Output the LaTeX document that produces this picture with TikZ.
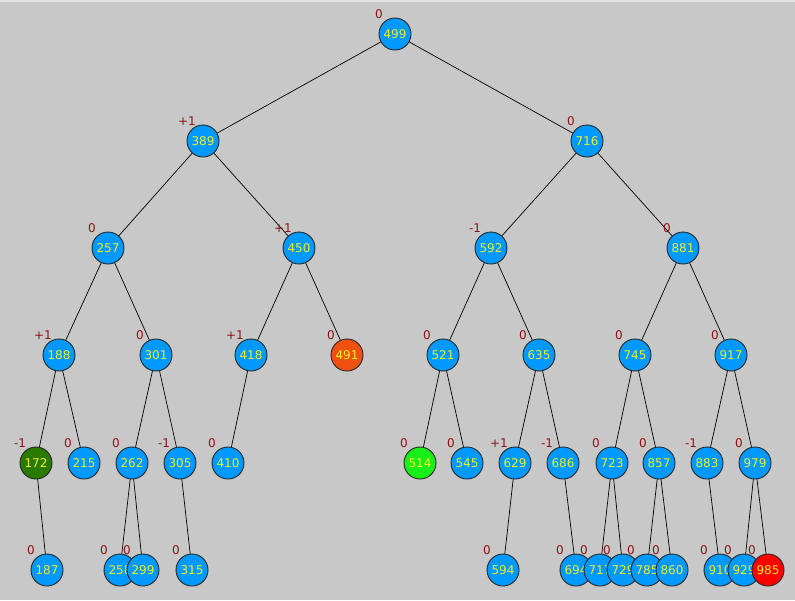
\documentclass[tikz,border=0pt]{standalone}
\usepackage{fontspec}
\setmainfont{DejaVu Sans}
\definecolor{bgc}{RGB}{200,200,200}
\definecolor{topc}{RGB}{228,228,228}
\definecolor{nodeblue}{RGB}{0,153,255}
\definecolor{keytxt}{RGB}{240,240,40}
\definecolor{baltxt}{RGB}{140,20,20}
\definecolor{dkgreen}{RGB}{42,122,0}
\definecolor{ltgreen}{RGB}{24,238,24}
\definecolor{orng}{RGB}{240,80,16}
\definecolor{hotred}{RGB}{255,0,0}
\begin{document}
\begin{tikzpicture}[x=1pt,y=-1pt,
  avl/.style={circle,draw=black!85,line width=0.9pt,fill=nodeblue,text=keytxt,
    minimum size=32pt,inner sep=0pt,font=\fontsize{12}{12}\selectfont},
  bal/.style={text=baltxt,font=\fontsize{12}{12}\selectfont,inner sep=0pt},
  edge/.style={draw=black,line width=0.7pt}]
\fill[bgc] (0,0) rectangle (795,600);
\fill[topc] (0,0) rectangle (795,2);
\useasboundingbox (0,0) rectangle (795,600);
% node positions: name/x/y/key/fill/balance
\foreach \n/\x/\y/\k/\c/\b in {
  n499/395/34/499/nodeblue/0,
  n389/203/141/389/nodeblue/+1, n716/587/141/716/nodeblue/0,
  n257/108/248/257/nodeblue/0, n450/299/248/450/nodeblue/+1,
  n592/491/248/592/nodeblue/-1, n881/683/248/881/nodeblue/0,
  n188/59/355/188/nodeblue/+1, n301/156/355/301/nodeblue/0,
  n418/251/355/418/nodeblue/+1, n491/347/355/491/orng/0,
  n521/443/355/521/nodeblue/0, n635/539/355/635/nodeblue/0,
  n745/635/355/745/nodeblue/0, n917/731/355/917/nodeblue/0,
  n172/36/463/172/dkgreen/-1, n215/84/463/215/nodeblue/0,
  n262/132/463/262/nodeblue/0, n305/180/463/305/nodeblue/-1,
  n410/228/463/410/nodeblue/0, n514/420/463/514/ltgreen/0,
  n545/467/463/545/nodeblue/0, n629/515/463/629/nodeblue/+1,
  n686/563/463/686/nodeblue/-1, n723/612/463/723/nodeblue/0,
  n857/659/463/857/nodeblue/0, n883/707/463/883/nodeblue/-1,
  n979/755/463/979/nodeblue/0,
  n187/47/570/187/nodeblue/0, n258/120/570/258/nodeblue/0,
  n299/143/570/299/nodeblue/0, n315/192/570/315/nodeblue/0,
  n594/503/570/594/nodeblue/0, n694/576/570/694/nodeblue/0,
  n717/600/570/717/nodeblue/0, n729/623/570/729/nodeblue/0,
  n785/647/570/785/nodeblue/0, n860/672/570/860/nodeblue/0,
  n910/720/570/910/nodeblue/0, n929/744/570/929/nodeblue/0,
  n985/768/570/985/hotred/0}
  \coordinate (\n) at (\x,\y);
% tree edges, drawn first so circles cover their ends
\foreach \a/\b in {n499/n389,n499/n716,n389/n257,n389/n450,n716/n592,n716/n881,
  n257/n188,n257/n301,n450/n418,n450/n491,n592/n521,n592/n635,n881/n745,n881/n917,
  n188/n172,n188/n215,n301/n262,n301/n305,n418/n410,n521/n514,n521/n545,
  n635/n629,n635/n686,n745/n723,n745/n857,n917/n883,n917/n979,
  n172/n187,n262/n258,n262/n299,n305/n315,n629/n594,n686/n694,n723/n717,n723/n729,
  n857/n785,n857/n860,n883/n910,n979/n929,n979/n985}
  \draw[edge] (\a) -- (\b);
% circles and balance factors, left to right so right neighbours overlap
\foreach \n/\x/\y/\k/\c/\b in {
  n499/395/34/499/nodeblue/0,
  n389/203/141/389/nodeblue/+1, n716/587/141/716/nodeblue/0,
  n257/108/248/257/nodeblue/0, n450/299/248/450/nodeblue/+1,
  n592/491/248/592/nodeblue/-1, n881/683/248/881/nodeblue/0,
  n188/59/355/188/nodeblue/+1, n301/156/355/301/nodeblue/0,
  n418/251/355/418/nodeblue/+1, n491/347/355/491/orng/0,
  n521/443/355/521/nodeblue/0, n635/539/355/635/nodeblue/0,
  n745/635/355/745/nodeblue/0, n917/731/355/917/nodeblue/0,
  n172/36/463/172/dkgreen/-1, n215/84/463/215/nodeblue/0,
  n262/132/463/262/nodeblue/0, n305/180/463/305/nodeblue/-1,
  n410/228/463/410/nodeblue/0, n514/420/463/514/ltgreen/0,
  n545/467/463/545/nodeblue/0, n629/515/463/629/nodeblue/+1,
  n686/563/463/686/nodeblue/-1, n723/612/463/723/nodeblue/0,
  n857/659/463/857/nodeblue/0, n883/707/463/883/nodeblue/-1,
  n979/755/463/979/nodeblue/0,
  n187/47/570/187/nodeblue/0, n258/120/570/258/nodeblue/0,
  n299/143/570/299/nodeblue/0, n315/192/570/315/nodeblue/0,
  n594/503/570/594/nodeblue/0, n694/576/570/694/nodeblue/0,
  n717/600/570/717/nodeblue/0, n729/623/570/729/nodeblue/0,
  n785/647/570/785/nodeblue/0, n860/672/570/860/nodeblue/0,
  n910/720/570/910/nodeblue/0, n929/744/570/929/nodeblue/0,
  n985/768/570/985/hotred/0}
  {
  \node[avl,fill=\c] (c\n) at (\n) {\k};
  \node[bal] (b\n) at ([shift={(-16,-20)}]\n) {\b};
  }
\end{tikzpicture}
\end{document}
